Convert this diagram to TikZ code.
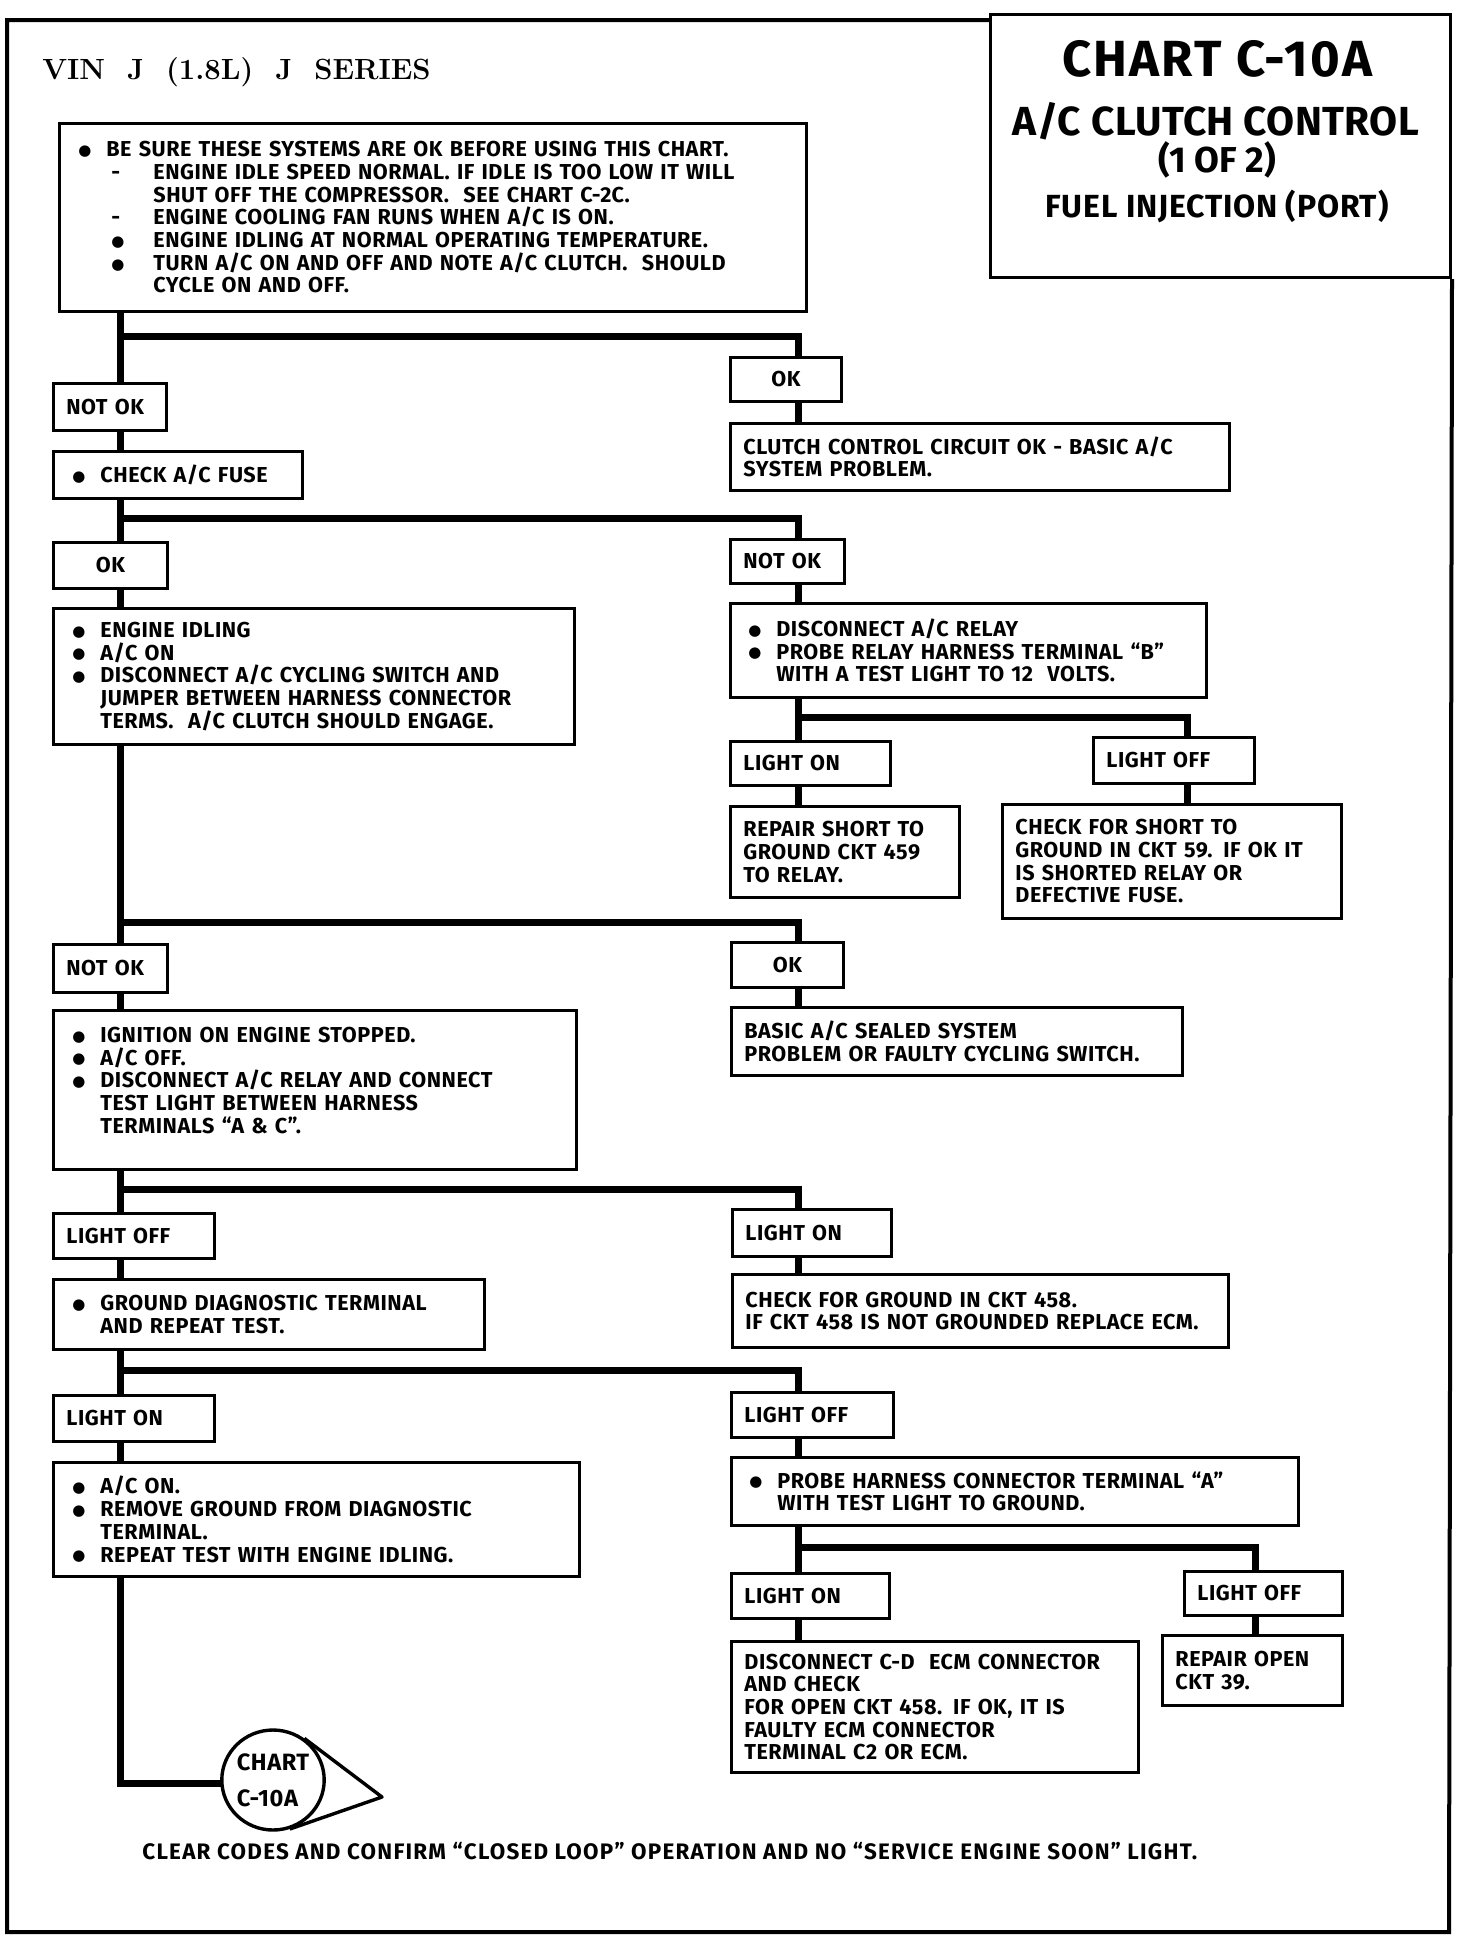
\documentclass[tikz,border=0pt]{standalone}
\usepackage{fontspec}
\setmainfont{Fira Sans}
\newfontfamily\bfam{Fira Sans}[LetterSpace=2.5]
\newfontfamily\dejavu{DejaVu Sans}
\newfontfamily\lmr{Latin Modern Roman}
\usetikzlibrary{shapes.geometric}
\newlength\bw \setlength\bw{14pt}
\newlength\sw \setlength\sw{23.5pt}
\newcommand\dotb{\smash{\raisebox{0.6pt}{\fontsize{7.5}{0}\selectfont\dejavu ●}}}
\newcommand\B[1]{\mbox{\makebox[\bw][l]{\dotb}#1}}
\newcommand\C[1]{\mbox{\hspace*{\bw}#1}}
\newcommand\Sm[2]{\C{\makebox[\sw][l]{\hspace{2.5pt}#1}#2}}
\newcommand\Sc[1]{\C{\hspace*{\sw}#1}}
% name, x1, y1, x2, y2, pad, text  (left aligned)
\newcommand\bx[7]{%
  \pgfmathsetmacro\tw{(#4-#2-2*#6)*0.5}%
  \pgfmathsetmacro\mh{(#5-#3)*0.5}%
  \pgfmathsetmacro\px{#6*0.5}%
  \node[box, txt, anchor=north west, inner xsep=\px pt, inner ysep=0pt,
        text width=\tw pt, minimum height=\mh pt, align=left] (#1) at (#2,#3) {#7};}
% centered
\newcommand\bxc[6]{%
  \pgfmathsetmacro\mw{(#4-#2)*0.5}%
  \pgfmathsetmacro\mh{(#5-#3)*0.5}%
  \node[box, txt, anchor=north west, inner sep=0pt,
        minimum width=\mw pt, minimum height=\mh pt, align=center] (#1) at (#2,#3) {#6};}
\begin{document}
\begin{tikzpicture}[x=0.5pt,y=-0.5pt,
  box/.style={draw, line width=1.4pt, fill=white},
  txt/.style={font=\fontsize{10.8}{11.35}\selectfont\bfam\bfseries},
  conn/.style={line width=3.5pt, line join=miter},
  frame/.style={line width=2pt}]
\useasboundingbox (0,0) rectangle (1472,1938);
\fill[white] (0,0) rectangle (1472,1938);

% level coordinates
\coordinate (tx) at (120,0);
\coordinate (rx) at (798,0);
\coordinate (sx1) at (1187,0);
\coordinate (sx2) at (1255,0);
\coordinate (h1) at (0,336);
\coordinate (h2) at (0,518);
\coordinate (h3) at (0,922);
\coordinate (h4) at (0,1189);
\coordinate (h5) at (0,1370);
\coordinate (hs1) at (0,717);
\coordinate (hs2) at (0,1547);
\coordinate (ft) at (0,20);

% title box and frame
\pgfmathsetmacro\tw{(1449-989)*0.5}
\pgfmathsetmacro\mh{(276-13)*0.5}
\node[draw, line width=1.5pt, anchor=north west, inner sep=0pt, minimum width=\tw pt, minimum height=\mh pt] (tbox) at (989,13) {};
\draw[frame] (tbox.north west |- ft) -- (7,20) -- (7,1932) -- (1449,1932) -- (tbox.south east);

\node[font=\fontsize{25.4}{30}\selectfont\bfseries\addfontfeature{LetterSpace=4.5}] (t1) at (1217,59) {CHART C-10A};
\node[font=\fontsize{20.3}{24}\selectfont\bfseries\addfontfeature{LetterSpace=1}] (t2) at (1216,121) {A/C CLUTCH CONTROL};
\node[font=\fontsize{18}{22}\selectfont\bfseries] (t3) at (1217,160) {(1 OF 2)};
\node[font=\fontsize{16}{20}\selectfont\bfseries\addfontfeature{LetterSpace=2.5}] (t4) at (1217,206) {FUEL INJECTION (PORT)};

\node[font=\fontsize{14.6}{18}\selectfont\lmr\bfseries, anchor=west, inner sep=0pt] (vin) at (42,72) {VIN\hspace{11pt}J\hspace{11pt}(1.8L)\hspace{11pt}J\hspace{11pt}SERIES};

% ---------- connectors ----------
% trunk
\draw[conn] (tx |- 0,310) -- (tx |- 0,1783) -- (224,1783);
% branches
\draw[conn] (tx |- h1) -| (rx |- 0,356);
\draw[conn] (tx |- h2) -| (rx |- 0,538);
\draw[conn] (tx |- h3) -| (rx |- 0,941);
\draw[conn] (tx |- h4) -| (rx |- 0,1208);
\draw[conn] (tx |- h5) -| (rx |- 0,1391);
\draw[conn] (rx |- 0,400) -- (rx |- 0,422);
\draw[conn] (rx |- 0,582) -- (rx |- 0,740);
\draw[conn] (rx |- hs1) -| (sx1 |- 0,736);
\draw[conn] (rx |- 0,784) -- (rx |- 0,805);
\draw[conn] (sx1 |- 0,782) -- (sx1 |- 0,803);
\draw[conn] (rx |- 0,986) -- (rx |- 0,1006);
\draw[conn] (rx |- 0,1255) -- (rx |- 0,1273);
\draw[conn] (rx |- 0,1436) -- (rx |- 0,1572);
\draw[conn] (rx |- hs2) -| (sx2 |- 0,1570);
\draw[conn] (rx |- 0,1617) -- (rx |- 0,1640);
\draw[conn] (sx2 |- 0,1614) -- (sx2 |- 0,1634);

% ---------- boxes ----------
\bx{b1}{58}{122}{805}{310}{19}{%
\B{BE SURE THESE SYSTEMS ARE OK BEFORE USING THIS CHART.}\\
\Sm{-}{ENGINE IDLE SPEED NORMAL. IF IDLE IS TOO LOW IT WILL}\\
\Sc{SHUT OFF THE COMPRESSOR.\ \ SEE CHART C-2C.}\\
\Sm{-}{ENGINE COOLING FAN RUNS WHEN A/C IS ON.}\\
\Sm{\dotb}{ENGINE IDLING AT NORMAL OPERATING TEMPERATURE.}\\
\Sm{\dotb}{TURN A/C ON AND OFF AND NOTE A/C CLUTCH.\ \ SHOULD}\\
\Sc{CYCLE ON AND OFF.}}

\bx{nok1}{52}{382}{165}{429}{13}{NOT OK}
\bx{fuse}{52}{450}{301}{497}{19}{\B{CHECK A/C FUSE}}
\bxc{ok2}{52}{541}{166}{587}{OK}
\bx{idle}{52}{607}{573}{743}{19}{%
\B{ENGINE IDLING}\\
\B{A/C ON}\\
\B{DISCONNECT A/C CYCLING SWITCH AND}\\
\C{JUMPER BETWEEN HARNESS CONNECTOR}\\
\C{TERMS.\ \ A/C CLUTCH SHOULD ENGAGE.}}

\bxc{okR1}{729}{356}{840}{400}{OK}
\bx{clutch}{729}{422}{1228}{489}{13}{CLUTCH CONTROL CIRCUIT OK - BASIC A/C\\SYSTEM PROBLEM.}
\bx{nokR2}{729}{538}{843}{582}{13}{NOT OK}
\bx{relay}{729}{602}{1205}{696}{18}{%
\B{DISCONNECT A/C RELAY}\\
\B{PROBE RELAY HARNESS TERMINAL “B”}\\
\C{WITH A TEST LIGHT TO 12\ \ VOLTS.}}
\bx{lonR1}{729}{740}{889}{784}{13}{LIGHT ON}
\bx{loffR1}{1092}{736}{1253}{782}{13}{LIGHT OFF}
\bx{repair}{729}{805}{958}{896}{13}{REPAIR SHORT TO\\GROUND CKT 459\\TO RELAY.}
\bx{chkshort}{1001}{803}{1340}{917}{13}{CHECK FOR SHORT TO\\GROUND IN CKT 59. IF OK IT\\IS SHORTED RELAY OR\\DEFECTIVE FUSE.}

\bx{nok3}{52}{943}{166}{991}{13}{NOT OK}
\bxc{okR3}{730}{941}{842}{986}{OK}
\bx{ign}{52}{1009}{575}{1168}{19}{%
\B{IGNITION ON ENGINE STOPPED.}\\
\B{A/C OFF.}\\
\B{DISCONNECT A/C RELAY AND CONNECT}\\
\C{TEST LIGHT BETWEEN HARNESS}\\
\C{TERMINALS “A \& C”.}\\[-1.5pt]\mbox{}}
\bx{basic}{730}{1006}{1181}{1074}{13}{BASIC A/C SEALED SYSTEM\\PROBLEM OR FAULTY CYCLING SWITCH.}

\bx{loff4}{52}{1212}{213}{1257}{13}{LIGHT OFF}
\bx{lon4R}{731}{1208}{890}{1255}{13}{LIGHT ON}
\bx{ground}{52}{1278}{483}{1348}{19}{%
\B{GROUND DIAGNOSTIC TERMINAL}\\
\C{AND REPEAT TEST.}}
\bx{chkground}{731}{1273}{1227}{1346}{13}{CHECK FOR GROUND IN CKT 458.\\IF CKT 458 IS NOT GROUNDED REPLACE ECM.}

\bx{lon5}{52}{1394}{213}{1440}{13}{LIGHT ON}
\bx{acon}{52}{1461}{578}{1575}{19}{%
\B{A/C ON.}\\
\B{REMOVE GROUND FROM DIAGNOSTIC}\\
\C{TERMINAL.}\\
\B{REPEAT TEST WITH ENGINE IDLING.}}
\bx{loff5R}{730}{1391}{892}{1436}{13}{LIGHT OFF}
\bx{probe}{730}{1456}{1297}{1524}{18}{%
\B{PROBE HARNESS CONNECTOR TERMINAL “A”}\\
\C{WITH TEST LIGHT TO GROUND.}}
\bx{lon6R}{730}{1572}{888}{1617}{13}{LIGHT ON}
\bx{loff6R}{1183}{1570}{1341}{1614}{13}{LIGHT OFF}
\bx{disc}{730}{1640}{1137}{1771}{13}{DISCONNECT C-D\ \ ECM CONNECTOR\\AND CHECK\\FOR OPEN CKT 458. IF OK, IT IS\\FAULTY ECM CONNECTOR\\TERMINAL C2 OR ECM.}
\bx{repopen}{1161}{1634}{1341}{1704}{13}{REPAIR OPEN\\CKT 39.}

% chart connector circle
\node[draw, ellipse, line width=1.7pt, fill=white, inner sep=0pt, minimum width=51pt, minimum height=50pt,
      font=\fontsize{11.8}{18}\selectfont\bfam\bfseries, align=left] (circ) at (273,1780) {CHART\\C-10A};
\coordinate (tip) at (382,1797);
\draw[line width=1.7pt, line join=round] (circ.53) -- (tip) -- (circ.-71);

\node[font=\fontsize{11.2}{13}\selectfont\bfseries\addfontfeature{LetterSpace=5.5}, anchor=west, inner sep=0pt] (clear) at (142,1851) {CLEAR CODES AND CONFIRM “CLOSED LOOP” OPERATION AND NO “SERVICE ENGINE SOON” LIGHT.};
\end{tikzpicture}
\end{document}
